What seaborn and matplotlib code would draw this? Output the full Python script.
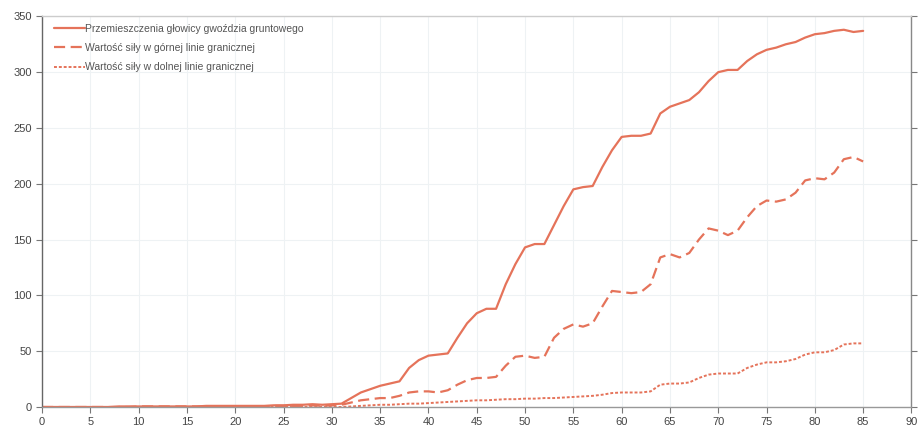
import numpy as np
import pandas as pd
import matplotlib
matplotlib.use("Agg")
import matplotlib.pyplot as plt
import seaborn as sns

x = list(range(0, 86))

przemieszczenia = [0, 0, 0, 0, 0, 0, 0, 0, 0.5, 0.5, 0.5, 0.5, 0.5, 0.5, 0.5, 0.5, 0.5, 1, 1, 1, 1,
                   1, 1, 1, 1.5, 1.5, 2, 2, 2.5, 2, 2.5, 3,
                   8, 13, 16, 19, 21, 23, 35, 42, 46, 47, 48, 62, 75, 84, 88, 88, 110, 128,
                   143, 146, 146, 163, 180, 195, 197, 198, 215, 230, 242, 243, 243, 245, 263,
                   269, 272, 275, 282, 292, 300, 302, 302, 310, 316, 320, 322, 325, 327, 331,
                   334, 335, 337, 338, 336, 337]

gorna = [0, 0, 0, 0, 0, 0, 0, 0, 0, 0, 0.5, 0.5, 0.5, 0.5, 0.5, 0.5, 0.5, 0.5, 0.5, 0.5, 0.5,
         0.5, 0.5, 0.5, 1, 1, 1, 1, 1.5, 1, 1.5, 2,
         4, 6, 7, 8, 8, 10, 13, 14, 14, 13, 15, 20, 24, 26, 26, 27, 37, 45,
         46, 44, 45, 62, 70, 74, 72, 75, 90, 104, 103, 102, 103, 110, 134,
         137, 134, 138, 150, 160, 158, 154, 158, 170, 180, 185, 184, 186, 192, 203,
         205, 204, 210, 222, 224, 220]

dolna = [0, 0, 0, 0, 0, 0, 0, 0, 0, 0, 0, 0, 0, 0, 0, 0, 0, 0, 0, 0, 0,
         0, 0, 0, 0, 0, 0, 0, 0, 0, 0, 0,
         0.5, 1, 1.5, 2, 2, 2.5, 3, 3, 3.5, 4, 4.5, 5, 5.5, 6, 6, 6.5, 7, 7,
         7.5, 7.5, 8, 8, 8.5, 9, 9.5, 10, 11, 12.5, 13, 13, 13, 14, 20,
         21, 21, 22, 26, 29, 30, 30, 30, 35, 38, 40, 40, 41, 43, 47,
         49, 49, 51, 56, 57, 57]

labels = ["Przemieszczenia głowicy gwoździa gruntowego",
          "Wartość siły w górnej linie granicznej",
          "Wartość siły w dolnej linie granicznej"]

xticks = list(range(0, 91, 5))
yticks = list(range(0, 351, 50))

sns.set_theme(style="white")
plt.rcParams['font.family'] = ['Liberation Sans', 'DejaVu Sans']

fig = plt.figure(figsize=(9.2, 4.26), dpi=100)
ax = fig.add_axes([0.0457, 0.0446, 0.945, 0.917])

color = "#E5735A"
df = pd.DataFrame({"x": x * 3,
                   "y": przemieszczenia + gorna + dolna,
                   "s": [labels[0]] * len(x) + [labels[1]] * len(x) + [labels[2]] * len(x)})

styles = [(None, 1.6), ((5, 2.5), 1.6), ((1.5, 1.0), 1.4)]
for lab, (dash, lw) in zip(labels, styles):
    sub = df[df["s"] == lab]
    line = sns.lineplot(data=sub, x="x", y="y", ax=ax, color=color, lw=lw, label=lab)
    l = ax.get_lines()[-1]
    if dash is not None:
        l.set_dashes(dash)

ax.set_xlim(0, 90)
ax.set_ylim(0, 350)
ax.set_xticks(xticks)
ax.set_yticks(yticks)
ax.set_xlabel("")
ax.set_ylabel("")
ax.grid(True, color="#EEF2F4", lw=0.8)
ax.tick_params(axis="both", labelsize=8, labelcolor="#444444", colors="#777777",
               length=4, width=0.8, direction="out")
ax.tick_params(axis="y", right=True, left=True, labelright=False)
ax.tick_params(axis="x", bottom=True)
for side, c in [("left", "#666666"), ("bottom", "#999999"), ("top", "#CCCCCC"), ("right", "#888888")]:
    ax.spines[side].set_color(c)
    ax.spines[side].set_linewidth(1.0)

leg = ax.legend(loc="upper left", frameon=False, fontsize=7.5, handlelength=3.0,
                handletextpad=0.0, labelspacing=0.9, borderaxespad=0.3,
                bbox_to_anchor=(0.005, 1.0))
for t in leg.get_texts():
    t.set_color("#555555")

fig.savefig("out.png", dpi=100)
